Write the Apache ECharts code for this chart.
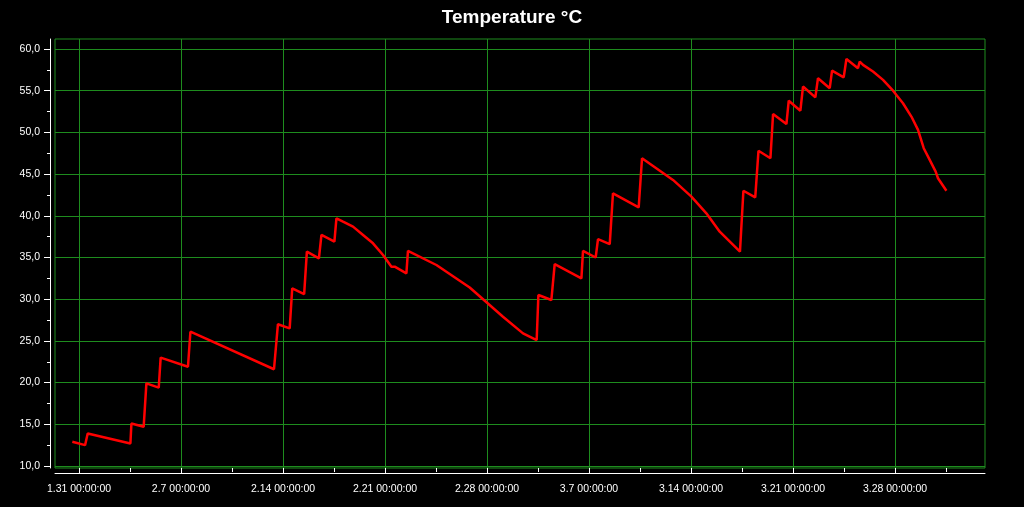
<!DOCTYPE html>
<html lang="en">
<head>
    <meta charset="UTF-8">
    <title>Temperature</title>
    <script src="https://cdn.jsdelivr.net/npm/echarts/dist/echarts.min.js"></script>
    <style>
        *{
            padding:0;
            margin:0;
        }
        html,body{
            background:#000;
        }
        #main{
            width:1024px;
            height:507px;
        }
    </style>
</head>
<body>
<div id="main"></div>
<script>
    // readings (UTC)
    var times = [
        '2019-01-30 13:00','2019-01-31 10:00','2019-01-31 14:20','2019-02-03 12:40','2019-02-03 14:20',
        '2019-02-04 10:30','2019-02-04 15:00','2019-02-05 11:20','2019-02-05 14:30','2019-02-07 11:30',
        '2019-02-07 15:30','2019-02-13 09:10','2019-02-13 15:40','2019-02-14 11:00','2019-02-14 15:10',
        '2019-02-15 10:50','2019-02-15 15:20','2019-02-16 11:10','2019-02-16 15:20','2019-02-17 12:40',
        '2019-02-17 16:00','2019-02-18 02:50','2019-02-18 19:20','2019-02-19 11:50','2019-02-20 04:15',
        '2019-02-20 20:45','2019-02-21 10:35','2019-02-21 16:00','2019-02-22 11:15','2019-02-22 13:50',
        '2019-02-24 12:40','2019-02-26 19:30','2019-03-01 02:20','2019-03-02 11:20','2019-03-03 09:50',
        '2019-03-03 12:40','2019-03-04 10:00','2019-03-04 15:30','2019-03-06 11:30','2019-03-06 14:10',
        '2019-03-07 11:00','2019-03-07 14:50','2019-03-08 10:10','2019-03-08 15:30','2019-03-10 09:50',
        '2019-03-10 15:20','2019-03-12 18:20','2019-03-14 00:40','2019-03-15 01:20','2019-03-15 23:20',
        '2019-03-17 08:40','2019-03-17 14:20','2019-03-18 09:50','2019-03-18 15:10','2019-03-19 10:50',
        '2019-03-19 15:10','2019-03-20 13:10','2019-03-20 17:00','2019-03-21 12:10','2019-03-21 16:30',
        '2019-03-22 12:50','2019-03-22 17:10','2019-03-23 12:30','2019-03-23 16:20','2019-03-24 11:30',
        '2019-03-24 16:00','2019-03-25 11:00','2019-03-25 13:55','2019-03-25 19:20','2019-03-26 11:45',
        '2019-03-27 04:15','2019-03-27 20:45','2019-03-28 13:10','2019-03-29 03:00','2019-03-29 13:55',
        '2019-03-29 23:20','2019-03-30 09:10','2019-03-30 19:00','2019-03-30 22:50','2019-03-31 12:40'
    ];
    var temps = [
        12.9,12.5,13.9,12.7,15.1,
        14.7,19.9,19.4,23.0,21.9,
        26.1,21.6,27.0,26.5,31.3,
        30.6,35.7,34.9,37.7,36.9,
        39.7,39.3,38.7,37.7,36.7,
        35.3,33.9,33.9,33.1,35.8,
        34.1,31.4,27.9,25.9,25.1,
        30.5,29.9,34.2,32.5,35.8,
        35.0,37.2,36.6,42.7,41.0,
        46.9,44.3,42.3,40.3,38.1,
        35.7,43.0,42.2,47.8,46.9,
        52.2,51.0,53.8,52.6,55.5,
        54.2,56.5,55.3,57.4,56.6,
        58.8,57.7,58.5,58.1,57.3,
        56.3,55.0,53.5,51.9,50.3,
        48.1,46.7,45.3,44.5,43.0
    ];
    var firstTick = '2019-01-31 00:00';
    var lastTick = '2019-03-28 00:00';

    var DAY = 86400000;
    var WEEK = 7 * DAY;
    var green = '#1e8c1e';
    var font = 'Liberation Sans';

    function ts(s){
        var p = s.split(/[- :]/);
        return Date.UTC(+p[0], +p[1] - 1, +p[2], +p[3], +p[4]);
    }

    var t0 = ts(firstTick);
    var t1 = ts(lastTick);
    // plot box reaches a bit past the first and last week marks
    var xMin = t0 - 1.647 * DAY;
    var xMax = t1 + 6.177 * DAY;

    var data = [];
    for (var i = 0; i < times.length; i++) {
        data.push([ts(times[i]), temps[i]]);
    }

    var hidden = {show: false, splitLine: {show: false}, axisLine: {show: false}, axisTick: {show: false}, axisLabel: {show: false}};

    var myChart = echarts.init(document.getElementById('main'));
    var option = {
        backgroundColor: '#000',
        animation: false,
        title: {
            text: 'Temperature °C',
            left: 'center',
            top: 3,
            textStyle: {
                color: '#fff',
                fontSize: 19,
                fontWeight: 'bold',
                fontFamily: font
            }
        },
        grid: [
            // outer box + axis lines
            {left: 55, right: 39, top: 39, bottom: 39, show: true, borderColor: green, borderWidth: 1},
            // value scale 10..60
            {left: 55, right: 39, top: 49, bottom: 41},
            // weekly marks
            {left: 79, right: 129, top: 39, bottom: 39},
            // half-week ticks
            {left: 79, right: 78, top: 39, bottom: 39}
        ],
        xAxis: [
            {
                gridIndex: 0, type: 'value', min: xMin, max: xMax, offset: 5,
                axisLine: {show: true, onZero: false, lineStyle: {color: '#fff', width: 1}},
                axisTick: {show: false}, axisLabel: {show: false}, splitLine: {show: false}
            },
            echarts.util.merge({gridIndex: 1, type: 'value', min: xMin, max: xMax}, hidden, true),
            {
                gridIndex: 2, type: 'value', min: t0, max: t1, interval: WEEK, offset: 5,
                axisLine: {show: false},
                axisTick: {show: true, length: 6, lineStyle: {color: '#fff'}},
                axisLabel: {
                    color: '#fff', fontSize: 10.5, fontFamily: font, margin: 11,
                    formatter: function (v) {
                        var d = new Date(v);
                        return (d.getUTCMonth() + 1) + '.' + d.getUTCDate() + ' 00:00:00';
                    }
                },
                splitLine: {show: true, lineStyle: {color: green, width: 1}}
            },
            {
                gridIndex: 3, type: 'value', min: t0, max: t1 + WEEK / 2, interval: WEEK / 2, offset: 5,
                axisLine: {show: false},
                axisTick: {show: true, length: 4, lineStyle: {color: '#fff'}},
                axisLabel: {show: false}, splitLine: {show: false}
            }
        ],
        yAxis: [
            {
                gridIndex: 0, type: 'value', min: 0, max: 1, offset: 5,
                axisLine: {show: true, onZero: false, lineStyle: {color: '#fff', width: 1}},
                axisTick: {show: false}, axisLabel: {show: false}, splitLine: {show: false}
            },
            {
                gridIndex: 1, type: 'value', min: 10, max: 60, interval: 5, offset: 5,
                axisLine: {show: false},
                axisTick: {show: true, length: 6, lineStyle: {color: '#fff'}},
                minorTick: {show: true, splitNumber: 2, length: 3, lineStyle: {color: '#fff'}},
                axisLabel: {
                    color: '#fff', fontSize: 10.5, fontFamily: font, margin: 10,
                    formatter: function (v) {
                        return v.toFixed(1).replace('.', ',');
                    }
                },
                splitLine: {show: true, lineStyle: {color: green, width: 1}}
            },
            echarts.util.merge({gridIndex: 2, type: 'value', min: 0, max: 1}, hidden, true),
            echarts.util.merge({gridIndex: 3, type: 'value', min: 0, max: 1}, hidden, true)
        ],
        series: [
            {
                name: 'Temperature',
                type: 'line',
                xAxisIndex: 1,
                yAxisIndex: 1,
                data: data,
                showSymbol: false,
                lineStyle: {color: '#ff0000', width: 2.5},
                itemStyle: {color: '#ff0000'}
            }
        ]
    };
    myChart.setOption(option);
</script>
</body>
</html>
